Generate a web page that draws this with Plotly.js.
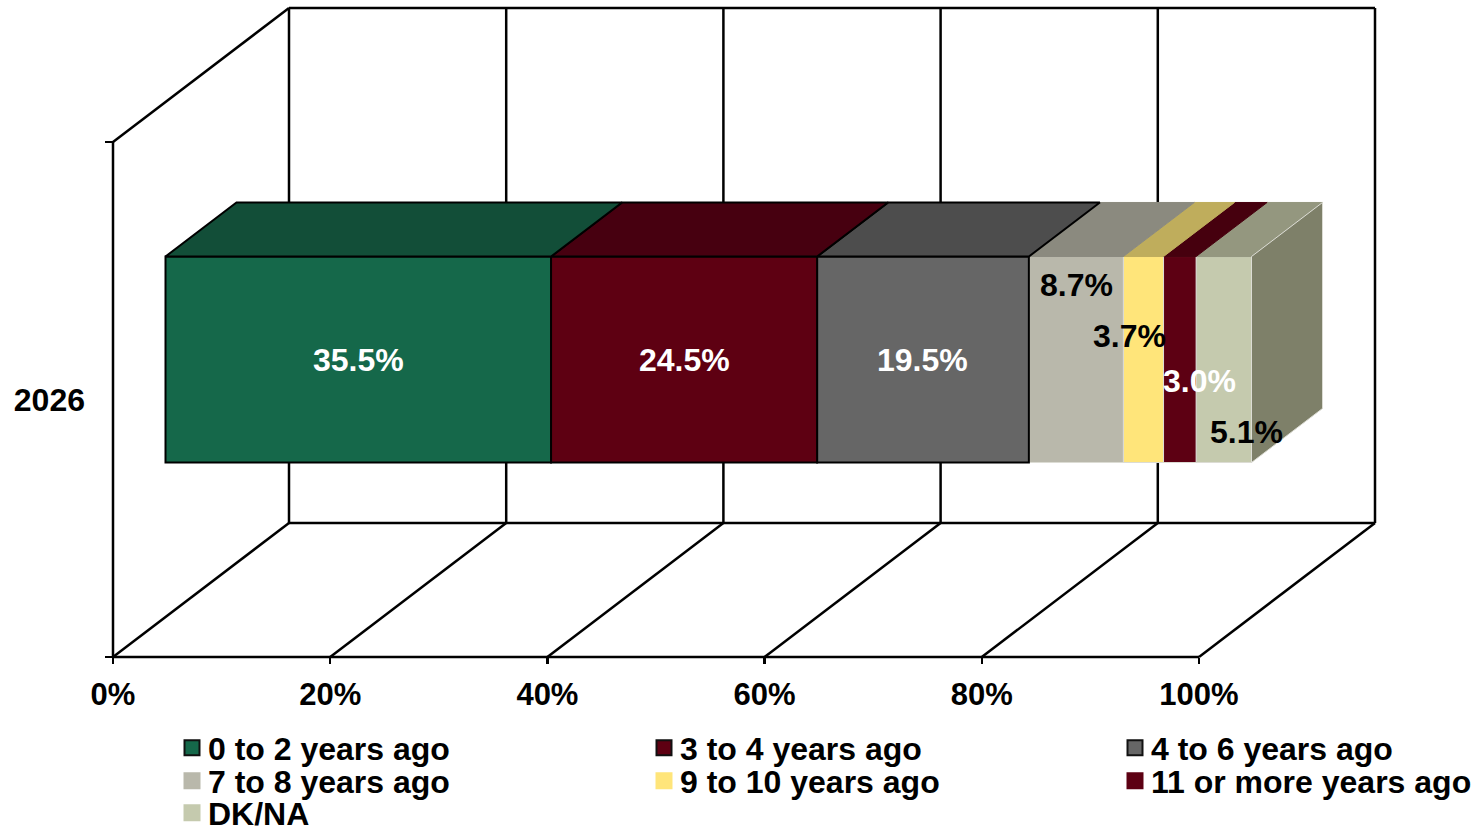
<!DOCTYPE html>
<html>
<head>
<meta charset="utf-8">
<script src="https://cdn.plot.ly/plotly-3.0.1.min.js"></script>
<style>html,body{margin:0;padding:0;background:#fff}#chart{width:1482px;height:826px}</style>
</head>
<body>
<div id="chart"></div>
<script>
var category = '2026';
var seriesNames = ['0 to 2 years ago','3 to 4 years ago','4 to 6 years ago','7 to 8 years ago','9 to 10 years ago','11 or more years ago','DK/NA'];
var seriesValues = [35.5,24.5,19.5,8.7,3.7,3.0,5.1];
var xTicks = [0,20,40,60,80,100];
var xTickLabels = ['0%','20%','40%','60%','80%','100%'];
var frontColors = ['#15684A','#5E0012','#666666','#B9B8AB','#FFE57A','#5D0013','#C5CAAE'];
var topColors = ['#124E38','#470010','#4D4D4D','#8B8A7F','#BFAD5C','#46000E','#94977F'];
var sideColor = '#7E8069';
var edgeColors = ['#000','#000','#000','#dcdcd4','#dcdcd4','#dcdcd4','#dcdcd4'];
var labelColors = ['#fff','#fff','#fff','#000','#000','#fff','#000'];
var labelShiftX = [0,0,0,0,-14,20,23];
var labelShiftY = [0,0,0,75,24,-21,-72];

// pixel geometry of the pseudo-3D frame
var pxPerPct = 10.86, pxPerUnit = 515;
var x0px = 113, y0px = 657;
var mL = 103, mR = 97, mT = 0, mB = 159;
var W = 1482, H = 826, plotW = W - mL - mR, plotH = H - mT - mB;
var depthX = 176 / pxPerPct, depthY = 134 / pxPerUnit;
var dFront = 52.5 / 176, dBack = 123.5 / 176;
var barLow = 0.3, barHigh = 0.7;
var fontFam = '"Liberation Sans", Arial, sans-serif';
var fs = 32;

function PX(v, d) { return v + d * depthX; }
function PY(y, d) { return y + d * depthY; }

var traces = [], annotations = [], shapes = [], starts = [], cum = 0;
var layout = {};
seriesValues.forEach(function (v) { starts.push(cum); cum += v; });

// drawn last-to-first so the dark edges of the first segments stay on top
for (var i = seriesValues.length - 1; i >= 0; i--) {
  var v = seriesValues[i], c0 = starts[i], c1 = c0 + v;
  traces.push({
    type: 'bar', orientation: 'h', x: [v], base: [PX(c0, dFront)],
    y: [PY((barLow + barHigh) / 2, dFront)], width: [barHigh - barLow],
    name: seriesNames[i], showlegend: false, hoverinfo: 'skip',
    marker: { color: frontColors[i], line: { color: edgeColors[i], width: i < 3 ? 2 : 1 } }
  });
  traces.push({
    type: 'scatter', mode: 'lines', fill: 'toself', fillcolor: topColors[i],
    x: [PX(c0, dFront), PX(c1, dFront), PX(c1, dBack), PX(c0, dBack), PX(c0, dFront)],
    y: [PY(barHigh, dFront), PY(barHigh, dFront), PY(barHigh, dBack), PY(barHigh, dBack), PY(barHigh, dFront)],
    line: { color: i < 3 ? '#000' : topColors[i], width: i < 3 ? 2 : 1 }, showlegend: false, hoverinfo: 'skip'
  });
  annotations.push({
    xref: 'x', yref: 'y', x: PX((c0 + c1) / 2, dFront), y: PY((barLow + barHigh) / 2, dFront),
    xshift: labelShiftX[i], yshift: labelShiftY[i], showarrow: false,
    text: v.toFixed(1) + '%', font: { family: fontFam, size: fs, color: labelColors[i], weight: 700 }
  });
}

// right side face of the bar
traces.push({
  type: 'scatter', mode: 'lines', fill: 'toself', fillcolor: sideColor,
  x: [PX(cum, dFront), PX(cum, dBack), PX(cum, dBack), PX(cum, dFront), PX(cum, dFront)],
  y: [PY(barLow, dFront), PY(barLow, dBack), PY(barHigh, dBack), PY(barHigh, dFront), PY(barLow, dFront)],
  line: { color: '#dcdcd4', width: 1 }, showlegend: false, hoverinfo: 'skip'
});

// legend: one small legend per entry so the rows can sit as tight as in the reference
var legendCols = [188, 660, 1131], legendRows = [748, 781, 813];
seriesNames.forEach(function (n, i) {
  var key = i === 0 ? 'legend' : 'legend' + (i + 1);
  traces.push({
    type: 'scatter', mode: 'markers', x: [null], y: [null], name: n, legend: key, showlegend: true,
    marker: { symbol: 'square', size: 15, color: frontColors[i], line: { color: i < 3 ? '#111' : frontColors[i], width: 2 } }
  });
  var col = legendCols[i % 3], row = legendRows[Math.floor(i / 3)];
  layout[key] = {
    x: (col - 20 - mL) / plotW, y: (H - mB - row) / plotH, xanchor: 'left', yanchor: 'middle',
    bgcolor: 'rgba(0,0,0,0)', borderwidth: 0, itemclick: false, itemdoubleclick: false,
    font: { family: fontFam, size: fs, color: '#000', weight: 700 }
  };
});

// frame lines
function seg(xa, ya, xb, yb) {
  shapes.push({ type: 'line', layer: 'below', xref: 'x', yref: 'y', x0: xa, y0: ya, x1: xb, y1: yb,
    line: { color: '#000', width: 2.5 } });
}
xTicks.forEach(function (t) {
  seg(PX(t, 1), 0 + depthY, PX(t, 1), 1 + depthY);
  seg(t, 0, PX(t, 1), depthY);
});
seg(0, 0, 100, 0);
seg(0, 0, 0, 1);
seg(0, 1, PX(0, 1), 1 + depthY);
seg(PX(0, 1), 1 + depthY, PX(100, 1), 1 + depthY);
seg(PX(0, 1), depthY, PX(100, 1), depthY);

Object.assign(layout, {
  width: W, height: H, paper_bgcolor: '#fff', plot_bgcolor: 'rgba(0,0,0,0)',
  margin: { l: mL, r: mR, t: mT, b: mB, pad: 0, autoexpand: false },
  barmode: 'overlay', showlegend: true, hovermode: false,
  xaxis: {
    range: [(mL - x0px) / pxPerPct, (W - mR - x0px) / pxPerPct], domain: [0, 1],
    anchor: 'free', position: (H - mB - y0px) / plotH,
    tickmode: 'array', tickvals: xTicks, ticktext: xTickLabels,
    ticks: 'outside', ticklen: 6, tickwidth: 2.5, tickcolor: '#000',
    showgrid: false, zeroline: false, showline: false,
    tickfont: { family: fontFam, size: 31, color: '#000', weight: 700 }, ticklabelstandoff: 4, fixedrange: true
  },
  yaxis: {
    range: [(y0px - (H - mB)) / pxPerUnit, (y0px - mT) / pxPerUnit], domain: [0, 1],
    anchor: 'free', position: (x0px - mL) / plotW,
    tickmode: 'array', tickvals: [0.5], ticktext: [category],
    ticks: '', showgrid: false, zeroline: false, showline: false,
    tickfont: { family: fontFam, size: 32, color: '#000', weight: 700 }, ticklabelstandoff: 28,
    minor: { tickmode: 'array', tickvals: [0, 1], ticks: 'outside', ticklen: 8, tickwidth: 2.5, tickcolor: '#000', showgrid: false },
    fixedrange: true
  },
  shapes: shapes, annotations: annotations
});

Plotly.newPlot('chart', traces, layout, { displayModeBar: false, staticPlot: true }).then(function (gd) {
  // nudge the legend swatches closer to their text, as in the reference
  gd.querySelectorAll('.legendsymbols').forEach(function (g) {
    var t = g.getAttribute('transform') || '';
    g.setAttribute('transform', t + ' translate(4,0)');
  });
});
</script>
</body>
</html>
